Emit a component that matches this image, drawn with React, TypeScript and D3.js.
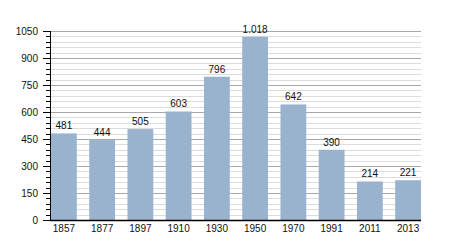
import React from "react";
import * as d3 from "d3";

const years = ["1857", "1877", "1897", "1910", "1930", "1950", "1970", "1991", "2011", "2013"];
const population = [481, 444, 505, 603, 796, 1018, 642, 390, 214, 221];
const yTicks = [0, 150, 300, 450, 600, 750, 900, 1050];

const W = 450, H = 250;
const left = 50, right = 421, top = 31, bottom = 220;

const fmt = (v: number) => {
  const s = String(v);
  return s.length > 3 ? s.slice(0, s.length - 3) + "." + s.slice(-3) : s;
};

export default function App() {
  const x = d3.scaleBand<string>().domain(years).range([left + 1, right]).paddingInner(0.325).paddingOuter(0);
  const y = d3.scaleLinear().domain([0, 1050]).range([bottom, top]);
  const minor = d3.range(0, 1051, 30);
  const font = "'Liberation Sans', Arial, sans-serif";
  return (
    <svg width={W} height={H} style={{ position: "absolute", left: 0, top: 0 }} fontFamily={font}>
      <rect width={W} height={H} fill="#fff" />
      {minor.filter((v) => v % 150 !== 0).map((v) => (
        <line key={"m" + v} x1={left} x2={right} y1={Math.round(y(v)) + 0.5} y2={Math.round(y(v)) + 0.5} stroke="#dcdcdc" strokeWidth={1} />
      ))}
      {yTicks.filter((v) => v > 0).map((v) => (
        <line key={"g" + v} x1={left} x2={right} y1={Math.round(y(v)) + 0.5} y2={Math.round(y(v)) + 0.5} stroke="#a8a8a8" strokeWidth={1} />
      ))}
      {population.map((v, i) => (
        <rect key={"b" + i} x={x(years[i])} y={y(v)} width={x.bandwidth()} height={bottom - y(v)} fill="#99b3cf" />
      ))}
      {population.map((v, i) => (
        <text key={"l" + i} x={(x(years[i]) as number) + x.bandwidth() / 2} y={y(v) - 4} textAnchor="middle" fontSize={10} fill="#111">
          {fmt(v)}
        </text>
      ))}
      {minor.map((v) => (
        <line key={"t" + v} x1={v % 150 === 0 ? 43 : 46} x2={left} y1={Math.round(y(v)) + 0.5} y2={Math.round(y(v)) + 0.5} stroke="#000" strokeWidth={1} />
      ))}
      {yTicks.map((v) => (
        <text key={"y" + v} x={38} y={y(v) + 3.5} textAnchor="end" fontSize={10} fill="#111">{v}</text>
      ))}
      <line x1={left + 0.5} x2={left + 0.5} y1={top} y2={bottom} stroke="#000" strokeWidth={1} />
      <line x1={left} x2={right} y1={bottom + 0.5} y2={bottom + 0.5} stroke="#000" strokeWidth={1.5} />
      {years.map((yr) => (
        <text key={"x" + yr} x={(x(yr) as number) + x.bandwidth() / 2} y={232} textAnchor="middle" fontSize={10} fill="#111">{yr}</text>
      ))}
    </svg>
  );
}
